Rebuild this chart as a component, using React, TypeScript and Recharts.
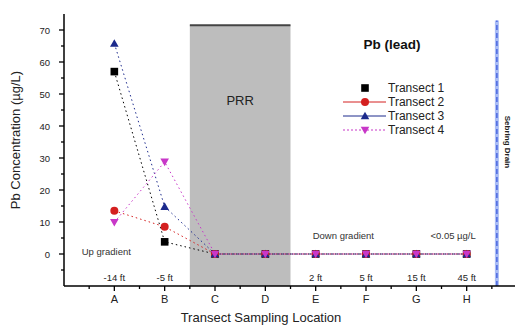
import React from "react";
import {
  ComposedChart,
  Line,
  XAxis,
  YAxis,
  ReferenceArea,
  ReferenceLine,
  ReferenceDot,
} from "recharts";

// sampling locations along the transects
const categories = ["A", "B", "C", "D", "E", "F", "G", "H"];
const distances = ["-14 ft", "-5 ft", "", "", "2 ft", "5 ft", "15 ft", "45 ft"];

// Pb concentration (ug/L) per transect
const transect1 = [57, 3.8, 0, 0, 0, 0, 0, 0];
const transect2 = [13.5, 8.5, 0, 0, 0, 0, 0, 0];
const transect3 = [65.8, 14.8, 0, 0, 0, 0, 0, 0];
const transect4 = [9.9, 28.8, 0, 0, 0, 0, 0, 0];

const yTicks = [-5, 0, 5, 10, 15, 20, 25, 30, 35, 40, 45, 50, 55, 60, 65, 70];
const xTicks = [0.5, 1, 1.5, 2, 2.5, 3, 3.5, 4, 4.5, 5, 5.5, 6, 6.5, 7, 7.5, 8, 8.5];

const data = categories.map((cat, i) => ({
  pos: i + 1,
  cat,
  dist: distances[i],
  t1: transect1[i],
  t2: transect2[i],
  t3: transect3[i],
  t4: transect4[i],
}));

const FONT = "'Liberation Sans', Arial, sans-serif";

const C1 = "#000000";
const C2 = "#d42020";
const C3 = "#1c2a8c";
const C4 = "#c837c8";

function Square({ cx, cy, color }: any) {
  if (cx == null || cy == null) return null;
  return <rect x={cx - 3.8} y={cy - 3.8} width={7.6} height={7.6} fill={color} />;
}
function Circle({ cx, cy, color }: any) {
  if (cx == null || cy == null) return null;
  return <circle cx={cx} cy={cy} r={4} fill={color} />;
}
function Tri({ cx, cy, color, down }: any) {
  if (cx == null || cy == null) return null;
  const s = 4.3;
  const pts = down
    ? `${cx - s},${cy - s + 1} ${cx + s},${cy - s + 1} ${cx},${cy + s}`
    : `${cx - s},${cy + s - 1} ${cx + s},${cy + s - 1} ${cx},${cy - s}`;
  return <polygon points={pts} fill={color} />;
}

function YTick({ x, y, payload }: any) {
  const major = payload.value % 10 === 0;
  return (
    <g>
      <line x1={x - (major ? 5 : 3)} x2={x} y1={y} y2={y} stroke="#000" strokeWidth={1.3} />
      {major && (
        <text x={x - 14} y={y + 3.5} textAnchor="end" fontSize={9.5} fontFamily={FONT} fill="#222">
          {payload.value}
        </text>
      )}
    </g>
  );
}

function XTick({ x, y, payload }: any) {
  const major = Number.isInteger(payload.value);
  return (
    <g>
      <line x1={x} x2={x} y1={y} y2={y + (major ? 5 : 3)} stroke="#000" strokeWidth={1.3} />
      {major && (
        <text x={x} y={y + 17} textAnchor="middle" fontSize={11} fontFamily={FONT} fill="#222">
          {categories[payload.value - 1]}
        </text>
      )}
    </g>
  );
}

function LegendBox() {
  const rows = [
    { name: "Transect 1", color: C1, kind: "sq", line: "none" },
    { name: "Transect 2", color: C2, kind: "ci", line: "solid" },
    { name: "Transect 3", color: C3, kind: "up", line: "solid" },
    { name: "Transect 4", color: C4, kind: "down", line: "dot" },
  ];
  return (
    <svg width={180} height={120}>
      <text x={92} y={29} textAnchor="middle" fontSize={13.5} fontWeight="bold" fontFamily={FONT} fill="#111">
        Pb (lead)
      </text>
      {rows.map((r, i) => {
        const cy = 68 + i * 14;
        return (
          <g key={r.name}>
            {r.line !== "none" && (
              <line
                x1={43}
                x2={86}
                y1={cy}
                y2={cy}
                stroke={r.color}
                strokeWidth={1}
                strokeDasharray={r.line === "dot" ? "2 2" : undefined}
              />
            )}
            {r.kind === "sq" && <Square cx={65} cy={cy} color={r.color} />}
            {r.kind === "ci" && <Circle cx={65} cy={cy} color={r.color} />}
            {r.kind === "up" && <Tri cx={65} cy={cy} color={r.color} />}
            {r.kind === "down" && <Tri cx={65} cy={cy} color={r.color} down />}
            <text x={88} y={cy + 4} fontSize={12} fontFamily={FONT} fill="#222">
              {r.name}
            </text>
          </g>
        );
      })}
    </svg>
  );
}

const noteStyle = { fontSize: 9.5, fontFamily: FONT, fill: "#333" };

export default function App() {
  return (
    <div style={{ position: "absolute", left: 0, top: 0, width: 515, height: 326, background: "#fff" }}>
      <ComposedChart width={515} height={326} data={data} margin={{ top: 14, right: 0, bottom: 0, left: 1 }}>
        <ReferenceArea x1={2.5} x2={4.5} y1={-10} y2={71.5} fill="#bdbdbd" fillOpacity={1} stroke="none" />
        <ReferenceLine
          segment={[
            { x: 2.5, y: 71.5 },
            { x: 4.5, y: 71.5 },
          ]}
          stroke="#444"
          strokeWidth={2}
        />
        <ReferenceDot
          x={3.5}
          y={48}
          r={0}
          label={{ value: "PRR", position: "center", fontSize: 13, fontFamily: FONT, fill: "#222" }}
        />
        <ReferenceLine
          segment={[
            { x: 8.6, y: -10 },
            { x: 8.6, y: 73 },
          ]}
          stroke="#a9bcf5"
          strokeWidth={4}
        />
        <ReferenceLine
          segment={[
            { x: 8.6, y: -10 },
            { x: 8.6, y: 73 },
          ]}
          stroke="#4a66e0"
          strokeWidth={1.5}
          strokeDasharray="5 3"
        />
        <ReferenceDot
          x={8.6}
          y={35}
          r={0}
          label={(p: any) => {
            const vb = p.viewBox || {};
            const cx = (vb.x ?? 0) + (vb.width ?? 0) / 2 + 10;
            const cy = (vb.y ?? 0) + (vb.height ?? 0) / 2;
            return (
              <text
                x={cx}
                y={cy}
                transform={`rotate(90, ${cx}, ${cy})`}
                textAnchor="middle"
                dominantBaseline="middle"
                fontSize={8}
                fontWeight="bold"
                fontFamily={FONT}
                fill="#222"
              >
                Sebring Drain
              </text>
            );
          }}
        />
        <XAxis
          dataKey="pos"
          type="number"
          domain={[0, 8.96]}
          ticks={xTicks}
          interval={0}
          height={40}
          tickSize={0}
          tickMargin={0}
          tickLine={false}
          tick={<XTick />}
          axisLine={{ stroke: "#000", strokeWidth: 1.5 }}
          label={(p: any) => {
            const vb = p.viewBox || {};
            return (
              <text x={261} y={(vb.y ?? 0) + 36} textAnchor="middle" fontSize={13} fontFamily={FONT} fill="#222">
                Transect Sampling Location
              </text>
            );
          }}
        />
        <YAxis
          type="number"
          domain={[-10, 75]}
          ticks={yTicks}
          interval={0}
          width={63}
          tickSize={0}
          tickMargin={0}
          tickLine={false}
          tick={<YTick />}
          axisLine={{ stroke: "#000", strokeWidth: 1.5 }}
          allowDataOverflow
          label={() => (
            <text
              x={20}
              y={140}
              transform="rotate(-90, 20, 140)"
              textAnchor="middle"
              fontSize={13}
              fontFamily={FONT}
              fill="#222"
            >
              Pb Concentration (µg/L)
            </text>
          )}
        />
        {data.map((d) =>
          d.dist ? (
            <ReferenceDot
              key={d.cat}
              x={d.pos}
              y={-7.5}
              r={0}
              label={{ value: d.dist, position: "center", fontSize: 9.5, fontFamily: FONT, fill: "#222" }}
            />
          ) : null
        )}
        <ReferenceDot x={0.84} y={0.6} r={0} label={{ value: "Up gradient", position: "center", ...noteStyle }} />
        <ReferenceDot x={5.55} y={5.6} r={0} label={{ value: "Down gradient", position: "center", ...noteStyle }} />
        <ReferenceDot x={7.73} y={5.6} r={0} label={{ value: "<0.05 µg/L", position: "center", ...noteStyle }} />
        <Line
          dataKey="t1"
          stroke={C1}
          strokeWidth={1}
          strokeDasharray="1.5 3"
          isAnimationActive={false}
          dot={(p: any) => <Square key={`t1-${p.index}`} cx={p.cx} cy={p.cy} color={C1} />}
          activeDot={false}
        />
        <Line
          dataKey="t2"
          stroke={C2}
          strokeWidth={1}
          strokeDasharray="1.5 3"
          isAnimationActive={false}
          dot={(p: any) => <Circle key={`t2-${p.index}`} cx={p.cx} cy={p.cy} color={C2} />}
          activeDot={false}
        />
        <Line
          dataKey="t3"
          stroke={C3}
          strokeWidth={1}
          strokeDasharray="1.5 3"
          isAnimationActive={false}
          dot={(p: any) => <Tri key={`t3-${p.index}`} cx={p.cx} cy={p.cy} color={C3} />}
          activeDot={false}
        />
        <Line
          dataKey="t4"
          stroke={C4}
          strokeWidth={1}
          strokeDasharray="1.5 3"
          isAnimationActive={false}
          dot={(p: any) => <Tri key={`t4-${p.index}`} cx={p.cx} cy={p.cy} color={C4} down />}
          activeDot={false}
        />
      </ComposedChart>
      <div style={{ position: "absolute", left: 300, top: 20, width: 180, height: 120, pointerEvents: "none" }}>
        <LegendBox />
      </div>
    </div>
  );
}
